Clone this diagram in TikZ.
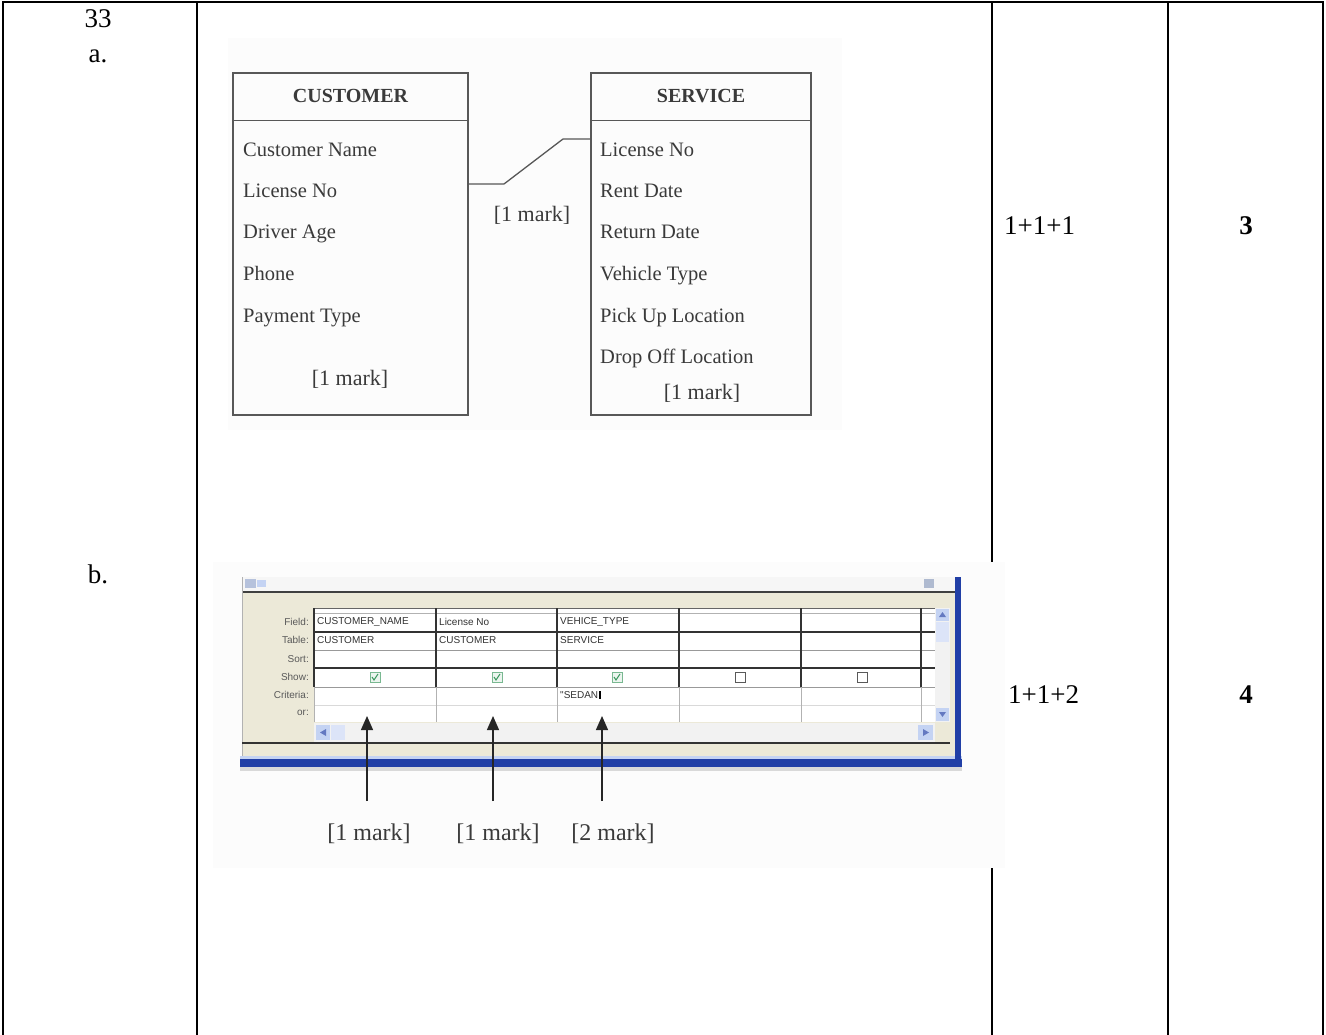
\documentclass[tikz,border=0pt]{standalone}
\usepackage{fontspec}
\setmainfont{Liberation Serif}
\newfontfamily\accessfont{Liberation Sans}
\usetikzlibrary{arrows.meta, positioning, calc}

\definecolor{scan}{HTML}{3A3A3A}
\definecolor{xpbeige}{HTML}{ECE9D8}
\definecolor{xpblue}{HTML}{213FA6}
\definecolor{xpsky}{HTML}{C4D3F3}
\definecolor{tick}{HTML}{3F9A62}

\begin{document}
\begin{tikzpicture}[x=1pt, y=-1pt,
    cell/.style={font=\fontsize{27}{32}\selectfont, inner sep=0pt, anchor=base},
    score/.style={font=\fontsize{27}{32}\selectfont\bfseries, inner sep=0pt, anchor=base},
    entity/.style={rectangle, draw=scan!85, line width=1.3pt, minimum height=342pt, inner sep=0pt},
    title/.style={font=\fontsize{20}{24}\selectfont\bfseries, text=scan, inner sep=0pt},
    attr/.style={font=\fontsize{20.5}{24}\selectfont, text=scan, inner sep=0pt, anchor=base west},
    markl/.style={font=\fontsize{22}{26}\selectfont, text=scan, inner sep=0pt, anchor=base},
    lbl/.style={font=\accessfont\fontsize{10}{12}\selectfont, text=black!65, inner sep=0pt, anchor=east},
    val/.style={font=\accessfont\fontsize{10}{12}\selectfont, text=black!80, inner sep=0pt, anchor=west},
    chk/.style={rectangle, draw=black!65, line width=0.8pt, minimum size=10pt, inner sep=0pt},
    pointer/.style={-{Triangle[length=14pt, width=12pt]}, line width=1.3pt, black!85}
]
\useasboundingbox (0,0) rectangle (1326,1035);

\draw[line width=1.6pt] (3,1035) -- (3,2) -- (1323,2) -- (1323,1035);
\foreach \x in {197,992,1168}
    \draw[line width=1.6pt] (\x,2) -- (\x,1035);

\node[cell] (qno) at (98,28) {33};
\node[cell] (qa) at (98,63) {a.};
\node[cell] (qb) at (98,583) {b.};
\node[cell, anchor=base west] (ka) at (1004,235) {1+1+1};
\node[score] (sa) at (1246,235) {3};
\node[cell, anchor=base west] (kb) at (1008,703) {1+1+2};
\node[score] (sb) at (1246,703) {4};

\fill[gray!2] (228,38) rectangle (842,430);
\node[entity, minimum width=235pt] (cust) at (350.5,244) {};
\node[entity, minimum width=220pt] (serv) at (701,244) {};
\draw[scan!85, line width=1.3pt] ($(cust.north west)+(0,48)$) -- ($(cust.north east)+(0,48)$);
\draw[scan!85, line width=1.3pt] ($(serv.north west)+(0,48)$) -- ($(serv.north east)+(0,48)$);
\node[title] (custt) at ($(cust.north)+(0,24)$) {CUSTOMER};
\node[title] (servt) at ($(serv.north)+(0,24)$) {SERVICE};

\node[attr] (c1) at (243,157) {Customer Name};
\node[attr] (c2) at (243,198) {License No};
\node[attr] (c3) at (243,239) {Driver Age};
\node[attr] (c4) at (243,281) {Phone};
\node[attr] (c5) at (243,323) {Payment Type};
\node[markl] (cm) at (350,385) {[1 mark]};

\node[attr] (s1) at (600,157) {License No};
\node[attr] (s2) at (600,198) {Rent Date};
\node[attr] (s3) at (600,239) {Return Date};
\node[attr] (s4) at (600,281) {Vehicle Type};
\node[attr] (s5) at (600,323) {Pick Up Location};
\node[attr] (s6) at (600,363) {Drop Off Location};
\node[markl] (sm) at (702,399) {[1 mark]};

\draw[scan!85, line width=1.3pt] (cust.east |- 0,184) -- (504,184) -- (563,139) -- (serv.west |- 0,139);
\node[markl] (lm) at (532,222) {[1 mark]};

\fill[white!98!gray] (213,562) rectangle (1005,868);
\fill[gray!7] (242,577) rectangle (957,592);
\fill[xpsky!80!gray] (245,579) rectangle (256,588);
\fill[xpsky] (257,580) rectangle (266,587);
\fill[xpsky!70!gray] (924,579) rectangle (934,588);
\fill[xpbeige] (242,592) rectangle (955,757);
\fill[white] (314,608) rectangle (950,722);
\draw[black!75, line width=1.6pt] (242,592) -- (956,592);
\draw[gray!60, line width=1pt] (242,577) -- (242,757);

\draw[black!60] (314,608) -- (950,608);
\draw[black!30] (314,613) -- (935,613);
\foreach \y in {632,668}
    \draw[black!80, line width=1.1pt] (314,\y) -- (935,\y);
\foreach \y in {650,687}
    \draw[black!40] (314,\y) -- (935,\y);
\draw[black!15] (314,705) -- (935,705);
\foreach \x in {314,436,557,679,801,921} {
    \draw[black!80, line width=1.1pt] (\x,608) -- (\x,687);
    \draw[black!30] (\x,687) -- (\x,722);
}

\fill[gray!10] (935,608) rectangle (950,722);
\fill[xpsky] (936,609) rectangle (949,621);
\fill[xpsky!60] (936,622) rectangle (949,642);
\fill[xpsky] (936,708) rectangle (949,721);
\fill[xpblue!70] (939,617) -- (942.5,612) -- (946,617) -- cycle;
\fill[xpblue!70] (939,712) -- (942.5,717) -- (946,712) -- cycle;

\fill[gray!10] (314,723) rectangle (935,742);
\fill[xpsky] (316,725) rectangle (330,740);
\fill[xpsky!60] (331,725) rectangle (345,740);
\fill[xpsky] (918,725) rectangle (933,740);
\fill[xpblue!70] (326,729) -- (320,732.5) -- (326,736) -- cycle;
\fill[xpblue!70] (923,729) -- (929,732.5) -- (923,736) -- cycle;

\draw[black!80, line width=1.2pt] (242,743) -- (950,743);
\fill[xpsky] (240,756) rectangle (962,759);
\fill[xpblue] (240,759) rectangle (962,767);
\fill[gray!30] (240,767) rectangle (962,771);
\fill[xpblue] (955,577) rectangle (961,759);

\foreach \t/\y [count=\i] in {Field:/622, Table:/640, Sort:/659, Show:/677, Criteria:/695, or:/713}
    \node[lbl] (row\i) at (309,\y) {\t};

\node[val] (f1) at (317,622) {CUSTOMER\_NAME};
\node[val] (f2) at (439,622) {License No};
\node[val] (f3) at (560,622) {VEHICE\_TYPE};
\node[val] (t1) at (317,640) {CUSTOMER};
\node[val] (t2) at (439,640) {CUSTOMER};
\node[val] (t3) at (560,640) {SERVICE};
\node[val] (crit) at (560,695) {"SEDAN};
\draw[black, line width=2pt] ([xshift=1.5pt]crit.north east) -- ([xshift=1.5pt]crit.south east);

\foreach \x [count=\i] in {375,497,617} {
    \node[chk, draw=tick!70, fill=tick!10] (on\i) at (\x,677) {};
    \draw[tick, line width=1pt] (\x-3,677) -- (\x-1,680) -- (\x+3,674);
}
\foreach \x [count=\i] in {740,862}
    \node[chk] (off\i) at (\x,677) {};

\node[markl, font=\fontsize{24}{28}\selectfont] (m1) at (369,840) {[1 mark]};
\node[markl, font=\fontsize{24}{28}\selectfont] (m2) at (498,840) {[1 mark]};
\node[markl, font=\fontsize{24}{28}\selectfont] (m3) at (613,840) {[2 mark]};
\coordinate (p1) at (367,716);
\coordinate (p2) at (493,716);
\coordinate (p3) at (602,716);
\draw[pointer] (p1 |- m1.north) ++(0,-22) -- (p1);
\draw[pointer] (p2 |- m2.north) ++(0,-22) -- (p2);
\draw[pointer] (p3 |- m3.north) ++(0,-22) -- (p3);
\end{tikzpicture}
\end{document}
